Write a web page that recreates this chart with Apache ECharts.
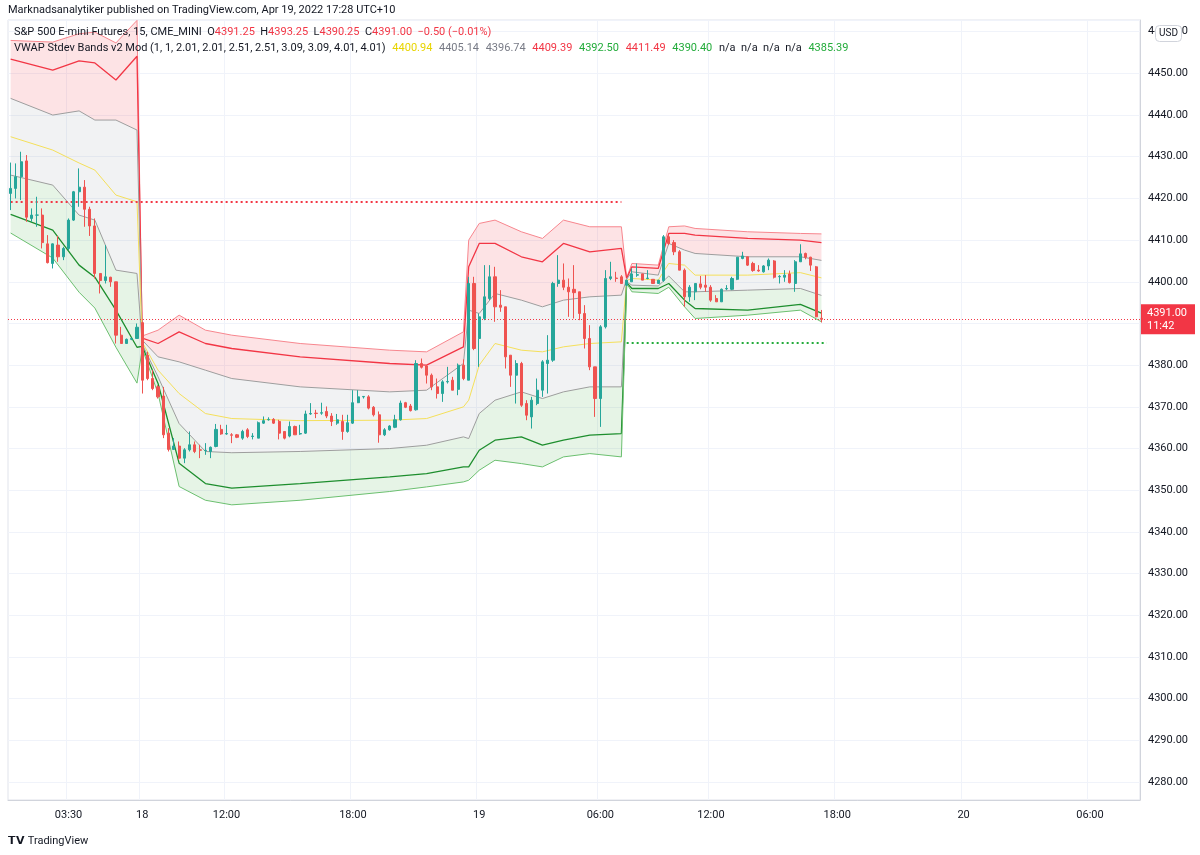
<!DOCTYPE html>
<html>
<head>
<meta charset="utf-8">
<script src="https://cdn.jsdelivr.net/npm/echarts@6/dist/echarts.min.js"></script>
<style>
  html, body { margin: 0; padding: 0; background: #fff; }
  #main { width: 1200px; height: 855px; }
</style>
</head>
<body>
<div id="main"></div>
<script>
// candles: [open, close, low, high], 15 min bars
const candles = [
  [4421.2,4422.4,4417.2,4428.6],[4422.4,4425.2,4420.0,4428.4],[4425.2,4428.8,4419.6,4431.2],[4429.0,4415.5,4414.4,4430.4],
  [4415.2,4416.0,4414.4,4417.6],[4416.0,4416.0,4413.2,4420.4],[4416.0,4409.4,4408.0,4417.6],[4409.1,4404.6,4404.4,4411.2],
  [4404.4,4409.1,4403.2,4409.2],[4408.8,4406.0,4404.8,4411.0],[4406.0,4408.0,4405.2,4408.4],[4408.0,4414.8,4407.6,4415.2],
  [4414.8,4421.6,4414.6,4421.8],[4421.6,4422.7,4418.0,4427.2],[4422.7,4417.4,4413.2,4424.4],[4417.4,4413.4,4411.0,4418.0],
  [4413.4,4402.0,4400.8,4415.2],[4402.0,4400.3,4397.2,4402.0],[4400.3,4401.2,4399.6,4408.8],[4401.1,4400.0,4398.8,4401.2],
  [4400.0,4387.2,4385.2,4400.0],[4387.2,4385.2,4385.2,4389.2],[4385.2,4386.2,4385.2,4386.4],[4386.2,4386.4,4386.0,4386.6],
  [4386.4,4389.1,4386.4,4390.0],
  [4390.2,4376.4,4373.2,4390.4],[4382.4,4376.8,4376.4,4383.2],[4376.8,4374.4,4374.0,4378.8],[4374.8,4372.4,4372.0,4375.2],
  [4372.6,4363.3,4362.5,4374.8],[4363.7,4359.8,4359.3,4364.9],[4359.8,4360.6,4359.7,4362.5],[4360.6,4357.7,4357.3,4361.7],
  [4357.7,4359.7,4356.5,4360.1],[4359.7,4360.9,4359.3,4364.1],[4360.9,4359.3,4358.9,4361.7],[4359.7,4359.6,4357.7,4360.9],
  [4359.5,4359.6,4358.5,4361.3],[4359.3,4360.3,4357.7,4360.5],[4360.5,4364.6,4360.3,4365.9],[4364.6,4363.5,4363.3,4365.7],
  [4363.5,4363.6,4363.3,4365.7],[4363.3,4363.2,4361.3,4363.7],[4363.3,4362.7,4362.5,4363.5],[4362.5,4364.1,4362.1,4364.5],
  [4364.5,4362.9,4362.5,4364.9],[4362.9,4363.0,4362.2,4363.7],[4362.5,4366.2,4362.5,4366.5],[4366.1,4366.7,4365.9,4367.7],
  [4366.9,4367.0,4366.7,4367.5],[4367.0,4366.1,4365.9,4367.3],[4366.5,4363.7,4362.2,4366.9],[4364.1,4362.5,4362.2,4364.1],
  [4363.0,4365.3,4362.7,4366.5],[4365.3,4363.3,4363.3,4365.5],[4363.5,4363.6,4363.3,4365.7],[4363.7,4368.3,4363.5,4369.1],
  [4368.3,4368.4,4368.1,4370.9],[4368.5,4368.4,4367.3,4369.3],[4368.5,4368.6,4368.1,4371.0],[4368.9,4367.8,4367.3,4370.1],
  [4367.8,4366.5,4365.4,4368.5],[4366.1,4366.9,4365.7,4368.3],[4366.5,4364.1,4362.1,4368.1],[4364.1,4366.2,4363.8,4368.1],
  [4366.1,4371.0,4365.9,4374.0],[4371.0,4372.4,4370.9,4374.0],[4372.4,4372.5,4372.0,4372.6],[4372.4,4369.7,4369.4,4372.8],
  [4369.9,4368.1,4367.7,4370.2],[4368.1,4363.3,4361.4,4368.9],[4363.3,4364.5,4363.0,4364.9],[4364.5,4365.4,4364.3,4365.6],
  [4365.1,4366.9,4364.9,4368.1],[4366.9,4370.9,4366.7,4371.5],[4371.0,4369.9,4369.7,4371.2],[4370.2,4369.1,4368.9,4370.7],
  [4369.3,4380.4,4369.1,4381.2],[4380.4,4379.5,4379.2,4381.6],[4379.8,4377.6,4375.6,4380.0],[4377.6,4374.8,4374.0,4378.0],
  [4374.8,4373.2,4372.0,4376.8],[4373.2,4376.0,4371.2,4376.4],[4376.0,4376.1,4375.6,4379.6],[4376.4,4374.0,4374.0,4377.2],
  [4374.2,4380.0,4372.8,4380.4],[4380.0,4376.8,4376.4,4381.4],
  [4376.4,4399.6,4376.4,4401.2],[4399.6,4384.0,4383.6,4401.2],[4386.4,4391.6,4379.6,4392.4],[4391.2,4396.4,4390.8,4404.0],
  [4396.0,4401.2,4395.6,4404.0],[4401.2,4394.0,4390.4,4403.6],[4394.4,4393.9,4392.8,4398.0],[4394.0,4382.0,4379.2,4394.0],
  [4382.4,4377.6,4374.8,4382.4],[4377.6,4380.4,4370.8,4381.2],[4380.4,4370.4,4370.0,4380.8],[4370.8,4368.0,4366.8,4371.6],
  [4367.6,4371.6,4364.8,4372.4],[4370.8,4374.0,4370.4,4376.8],[4374.0,4380.8,4372.4,4381.2],[4380.4,4381.2,4373.2,4387.2],
  [4381.2,4399.6,4380.8,4400.0],[4399.6,4400.4,4398.8,4406.4],[4400.4,4398.7,4398.0,4404.4],[4398.7,4397.6,4391.6,4400.8],
  [4398.2,4397.4,4391.2,4404.0],[4397.6,4392.4,4390.8,4397.6],[4392.4,4386.4,4384.0,4394.4],[4386.4,4379.6,4378.8,4389.6],
  [4379.6,4372.0,4367.6,4379.6],[4372.0,4389.2,4365.2,4389.6],[4389.2,4400.8,4388.8,4402.8],[4400.8,4401.2,4400.4,4404.8],
  [4400.9,4400.8,4400.0,4402.4],[4401.2,4399.6,4399.6,4401.6],
  [4399.2,4400.4,4399.0,4400.4],[4400.0,4401.9,4400.0,4403.2],[4401.6,4401.7,4401.2,4404.4],[4401.9,4400.4,4400.4,4401.9],
  [4400.8,4400.9,4400.6,4402.8],[4400.6,4399.6,4399.6,4400.6],[4399.6,4400.4,4399.6,4400.4],[4400.3,4410.8,4400.0,4411.2],
  [4410.8,4409.2,4408.8,4411.2],[4409.4,4407.2,4406.4,4410.0],[4407.2,4402.8,4402.8,4407.6],[4402.8,4396.4,4394.0,4403.2],
  [4396.4,4398.7,4395.2,4399.2],[4397.6,4399.6,4395.6,4399.6],[4399.5,4398.7,4398.2,4401.4],[4399.2,4398.7,4397.6,4401.6],
  [4398.7,4395.6,4395.2,4399.2],[4396.0,4395.2,4395.2,4396.8],[4395.2,4398.2,4395.2,4398.4],[4398.3,4398.4,4398.0,4399.2],
  [4398.2,4400.8,4398.0,4401.2],[4400.6,4405.9,4400.4,4405.9],[4405.6,4406.2,4405.4,4407.2],[4406.0,4404.0,4403.8,4406.0],
  [4404.4,4402.7,4402.4,4404.8],[4402.8,4402.6,4402.4,4404.0],[4402.4,4403.8,4402.2,4404.0],[4403.8,4405.2,4402.8,4405.6],
  [4405.0,4401.1,4400.8,4405.2],[4401.2,4401.3,4399.6,4401.6],[4401.1,4401.6,4400.0,4402.8],[4401.9,4399.8,4399.6,4402.7],
  [4399.6,4404.8,4397.6,4405.2],[4404.8,4406.7,4404.8,4409.0],[4406.8,4405.9,4405.4,4407.0],[4405.9,4404.0,4402.6,4406.0],
  [4403.6,4391.6,4391.5,4403.8],[4391.25,4391.0,4390.25,4393.25]
];

// VWAP stdev band knots (bar index + values)
const knotIdx = [0,8,13,16,20,24,25,28,32,37,42,55,72,79,86,87,89,92,97,101,105,110,116,117,118,123,125,128,130,140,150,154];
const outerRed = [4457.9,4457.5,4459.5,4459.9,4457.3,4462.7,4387,4388.4,4392.0,4388.4,4387.2,4385.2,4383.6,4383.2,4388.0,4410.0,4414.0,4414.8,4412.0,4410.4,4414.8,4413.2,4413.2,4401,4404.4,4404.0,4413.2,4413.4,4412.8,4412.0,4411.6,4411.49];
const redBand = [4453.4,4450.8,4453.0,4452.5,4448.4,4454.1,4386.5,4385.2,4388.0,4385.2,4384.0,4382.0,4380.4,4380.0,4384.4,4403.6,4409.2,4409.2,4406.0,4404.8,4409.2,4407.2,4408.0,4400.8,4403.6,4403.2,4411.6,4411.6,4411.2,4410.4,4410.0,4409.39];
const grayUp = [4444.0,4440.0,4441.0,4438.8,4438.8,4436.4,4386,4382.0,4380.8,4378.8,4376.8,4374.8,4373.6,4374.0,4380.4,4393.2,4392.4,4397.2,4395.6,4394.0,4395.6,4396.4,4396.8,4400.6,4402.4,4401.6,4409.2,4407.6,4406.8,4406.0,4406.0,4405.14];
const vwap = [4434.8,4431.6,4428.5,4426.8,4420.8,4419.2,4385.5,4378.8,4373.2,4368.4,4367.2,4366.7,4366.8,4367.2,4370.0,4371.6,4380.0,4385.2,4383.6,4383.2,4384.4,4385.2,4385.6,4400.3,4400.8,4400.4,4404.4,4404.0,4401.6,4401.6,4402.2,4400.94];
const grayLo = [4425.6,4423.2,4416.0,4414.8,4402.8,4402.0,4385,4377.2,4366.0,4359.3,4359.0,4359.3,4360.0,4360.8,4362.8,4362.4,4368.4,4371.6,4373.6,4372.0,4373.6,4374.8,4374.8,4400.0,4399.2,4399.0,4401.4,4397.6,4397.6,4398.0,4398.4,4396.74];
const greenBand = [4416.2,4412.4,4404.0,4401.1,4393.2,4384.3,4384.5,4375.6,4356.5,4351.6,4350.5,4351.6,4353.2,4354.0,4355.6,4355.6,4359.6,4362.0,4362.8,4360.8,4362.0,4363.2,4363.6,4399.8,4398.4,4398.4,4399.6,4395.6,4393.6,4393.2,4394.6,4392.50];
const outerGreen = [4411.7,4405.7,4397.5,4393.7,4384.3,4375.7,4384,4373.2,4350.9,4347.6,4346.5,4347.6,4349.7,4350.8,4352.0,4352.4,4354.8,4357.2,4356.4,4355.6,4358.0,4358.8,4358.0,4399.6,4397.6,4397.2,4398.7,4394.0,4391.2,4392.0,4393.2,4390.40];

// dotted levels: [fromBar, toBar, price]
const redLevel = [0, 116, 4419.1];
const greenLevel = [117, 155, 4385.5];
const lastPrice = 4391.00;

// time axis
const slotCount = 215;
const tickIdx = [11, 25, 41, 65, 89, 112, 133, 157, 181, 205];
const tickText = ['03:30', '18', '12:00', '18:00', '19', '06:00', '12:00', '18:00', '20', '06:00'];

const cats = [];
for (let i = 0; i < slotCount; i++) cats.push('');
tickIdx.forEach((k, j) => { cats[k] = tickText[j]; });
const isTick = (i) => tickIdx.indexOf(i) >= 0;

const pairs = (arr) => knotIdx.map((k, j) => [k, arr[j]]);

function lineSeries(arr, color, width) {
  return {
    type: 'line', data: pairs(arr), showSymbol: false, silent: true,
    lineStyle: { color: color, width: width }, z: 3
  };
}

const hdrRich = {
  n: { fill: '#131722', font: '11px Roboto, sans-serif' },
  r: { fill: '#f23645', font: '11px Roboto, sans-serif' },
  y: { fill: '#e8d400', font: '11px Roboto, sans-serif' },
  g: { fill: '#787b86', font: '11px Roboto, sans-serif' },
  gr: { fill: '#22ab3a', font: '11px Roboto, sans-serif' }
};

const chart = echarts.init(document.getElementById('main'));

const option = {
  animation: false,
  backgroundColor: '#ffffff',
  textStyle: { fontFamily: 'Roboto, "Noto Sans", sans-serif' },
  grid: { left: 8, right: 60, top: 20, bottom: 55, show: true, borderColor: '#e0e3eb', borderWidth: 1 },
  xAxis: {
    type: 'category', data: cats, boundaryGap: true,
    axisLine: { lineStyle: { color: '#d1d4dc' } },
    axisTick: { show: false },
    axisLabel: { interval: (i) => isTick(i), color: '#131722', fontSize: 11, margin: 10 },
    splitLine: { show: true, interval: (i) => isTick(i), lineStyle: { color: '#f0f3fa' } }
  },
  yAxis: {
    type: 'value', position: 'right', min: 4275.7, max: 4462.8, splitNumber: 19, scale: true,
    axisLine: { show: true, lineStyle: { color: '#d1d4dc' } },
    axisTick: { show: false },
    axisLabel: { color: '#131722', fontSize: 11, showMinLabel: false, showMaxLabel: false,
      formatter: (v) => v.toFixed(2), margin: 8 },
    splitLine: { lineStyle: { color: '#f0f3fa' } }
  },
  graphic: [
    { type: 'text', left: 8, top: 5, z: 100, style: { text: 'Marknadsanalytiker published on TradingView.com, Apr 19, 2022 17:28 UTC+10', fill: '#131722', font: '11px Roboto, sans-serif' } },
    { type: 'text', left: 14, top: 27, z: 100, style: { rich: hdrRich,
      text: '{n|S&P 500 E-mini Futures, 15, CME_MINI  O}{r|4391.25}{n|  H}{r|4393.25}{n|  L}{r|4390.25}{n|  C}{r|4391.00  −0.50 (−0.01%)}'
    } },
    { type: 'text', left: 14, top: 42, z: 100, style: { rich: hdrRich,
      text: '{n|VWAP Stdev Bands v2 Mod (1, 1, 2.01, 2.01, 2.51, 2.51, 3.09, 3.09, 4.01, 4.01)}  {y|4400.94}  {g|4405.14}  {g|4396.74}  {r|4409.39}  {gr|4392.50}  {r|4411.49}  {gr|4390.40}  {n|n/a  n/a  n/a  n/a}  {gr|4385.39}'
    } },
    { type: 'rect', right: 18, top: 25, z: 100, shape: { width: 26, height: 16, r: 4 }, style: { fill: '#fff', stroke: '#d1d4dc' } },
    { type: 'text', right: 22, top: 28, z: 101, style: { text: 'USD', fill: '#131722', font: '10px Roboto, sans-serif' } },
    { type: 'text', left: 8, top: 836, z: 100, style: { text: '𝗧𝗩 TradingView', fill: '#131722', font: '11px Roboto, sans-serif' } }
  ],
  series: [
    {
      type: 'custom', silent: true, z: 1, data: [0],
      renderItem: function (params, api) {
        const cs = params.coordSys;
        const pt = (k, v) => {
          const p = api.coord([k, v]);
          return [p[0], Math.max(cs.y, Math.min(cs.y + cs.height, p[1]))];
        };
        const band = (hi, lo, fill) => {
          const pts = knotIdx.map((k, j) => pt(k, hi[j]));
          for (let j = knotIdx.length - 1; j >= 0; j--) pts.push(pt(knotIdx[j], lo[j]));
          return { type: 'polygon', shape: { points: pts }, style: { fill: fill } };
        };
        return { type: 'group', children: [
          band(outerRed, grayUp, 'rgba(242,54,69,0.14)'),
          band(grayUp, grayLo, 'rgba(120,123,134,0.10)'),
          band(grayLo, outerGreen, 'rgba(76,175,80,0.14)')
        ] };
      }
    },
    lineSeries(outerRed, '#f7868e', 1),
    lineSeries(redBand, '#f23645', 1.3),
    lineSeries(grayUp, '#9e9e9e', 1),
    lineSeries(vwap, '#f5e05a', 1),
    lineSeries(grayLo, '#9e9e9e', 1),
    lineSeries(greenBand, '#1e8e2e', 1.3),
    lineSeries(outerGreen, '#6cc070', 1),
    {
      type: 'candlestick', data: candles, barMaxWidth: 4, z: 5,
      itemStyle: { color: '#26a69a', color0: '#ef5350', borderColor: '#26a69a', borderColor0: '#ef5350', borderWidth: 1 },
      markLine: {
        silent: true, symbol: 'none', animation: false,
        label: { show: false },
        data: [
          [ { coord: [redLevel[0], redLevel[2]], lineStyle: { color: '#f23645', type: [2, 3], width: 2 } },
            { coord: [redLevel[1], redLevel[2]] } ],
          [ { coord: [greenLevel[0], greenLevel[2]], lineStyle: { color: '#22ab3a', type: [2, 3], width: 2 } },
            { coord: [greenLevel[1], greenLevel[2]] } ],
          [ { x: 8, yAxis: lastPrice, lineStyle: { color: '#f23645', type: [1, 2], width: 1 },
              label: { show: true, position: 'end', distance: 1, formatter: lastPrice.toFixed(2) + '\n11:42',
                backgroundColor: '#f23645', color: '#fff', fontSize: 11, padding: [2, 8, 2, 6], lineHeight: 13, align: 'left' } },
            { x: 1140, yAxis: lastPrice } ]
        ]
      }
    }
  ]
};

chart.setOption(option);
</script>
</body>
</html>
